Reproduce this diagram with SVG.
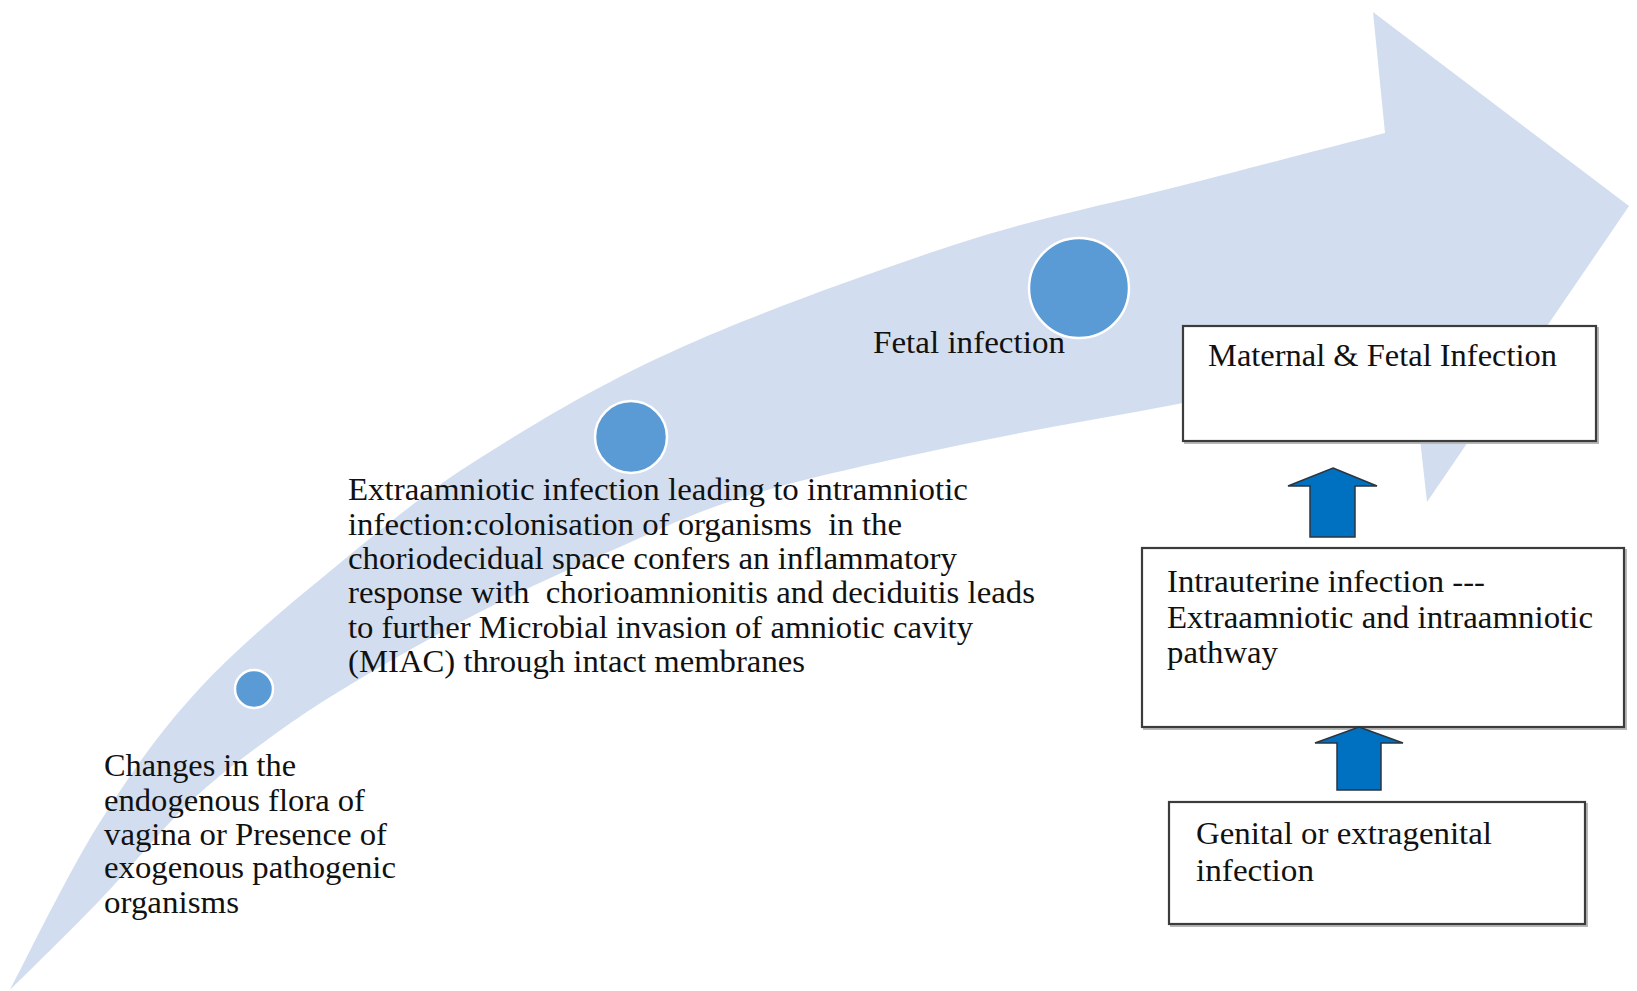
<svg xmlns="http://www.w3.org/2000/svg" width="1637" height="991" viewBox="0 0 1637 991">
<style>
.t{font-family:"Liberation Serif","Times New Roman",serif;fill:#111;white-space:pre}
.p{font-size:31px}
.b{font-size:32px}
.dot{fill:#5B9BD5;stroke:#ffffff;stroke-width:2.5}
.box{fill:#ffffff;stroke:#3c3c3c;stroke-width:2.2}
.shadow{fill:none;stroke:#b8b8b8;stroke-width:2}
.up{fill:#0070C0;stroke:#2a3540;stroke-width:1.5;stroke-linejoin:miter}
</style>
<rect width="1637" height="991" fill="#ffffff"/>
<g id="band">
<path fill="#D2DEEF" d="M10,990 C25,962 68.3,872.3 100,822 C131.7,771.7 160,731.2 200,688 C240,644.8 293.3,601.3 340,563 C386.7,524.7 423.3,493.8 480,458 C536.7,422.2 600,383.8 680,348 C760,312.2 876.7,270 960,243 C1043.3,216 1109.2,204.3 1180,186 C1250.8,167.7 1350.8,141.8 1385,133 L1373,12 L1629,206 L1427,502 L1411,358 C1373,365.5 1258.2,388.5 1183,403 C1107.8,417.5 1032.2,429.7 960,445 C887.8,460.3 807.8,477.5 750,495 C692.2,512.5 658,530.5 613,550 C568,569.5 523.3,589.8 480,612 C436.7,634.2 388.5,661.7 353,683 C317.5,704.3 294.7,719.7 267,740 C239.3,760.3 214.8,778.3 187,805 C159.2,831.7 129.5,869.2 100,900 C70.5,930.8 25,975 10,990 Z"/>
</g>
<g id="stage1">
<circle class="dot" cx="254" cy="689" r="19"/>
<text class="t p" x="104" y="776" textLength="192" lengthAdjust="spacingAndGlyphs">Changes in the</text>
<text class="t p" x="104" y="811" textLength="261" lengthAdjust="spacingAndGlyphs">endogenous flora of</text>
<text class="t p" x="104" y="845" textLength="283" lengthAdjust="spacingAndGlyphs">vagina or Presence of</text>
<text class="t p" x="104" y="878" textLength="292" lengthAdjust="spacingAndGlyphs">exogenous pathogenic</text>
<text class="t p" x="104" y="913" textLength="135" lengthAdjust="spacingAndGlyphs">organisms</text>
</g>
<g id="stage2">
<circle class="dot" cx="631" cy="437" r="36"/>
<text class="t p" x="348" y="500" textLength="620" lengthAdjust="spacingAndGlyphs">Extraamniotic infection leading to intramniotic</text>
<text class="t p" x="348" y="535" textLength="554" lengthAdjust="spacingAndGlyphs">infection:colonisation of organisms  in the</text>
<text class="t p" x="348" y="569" textLength="609" lengthAdjust="spacingAndGlyphs">choriodecidual space confers an inflammatory</text>
<text class="t p" x="348" y="603" textLength="687" lengthAdjust="spacingAndGlyphs">response with  chorioamnionitis and deciduitis leads</text>
<text class="t p" x="348" y="638" textLength="625" lengthAdjust="spacingAndGlyphs">to further Microbial invasion of amniotic cavity</text>
<text class="t p" x="348" y="672" textLength="457" lengthAdjust="spacingAndGlyphs">(MIAC) through intact membranes</text>
</g>
<g id="stage3">
<circle class="dot" cx="1079" cy="288" r="50"/>
<text class="t p" x="873" y="353" textLength="192" lengthAdjust="spacingAndGlyphs">Fetal infection</text>
</g>
<g id="maternal-fetal">
<rect class="shadow" x="1185" y="328" width="413" height="115"/>
<rect class="box" x="1183" y="326" width="413" height="115"/>
<text class="t b" x="1208" y="366" textLength="349" lengthAdjust="spacingAndGlyphs">Maternal &amp; Fetal Infection</text>
</g>
<g id="intrauterine">
<rect class="shadow" x="1144" y="550" width="482" height="179"/>
<rect class="box" x="1142" y="548" width="482" height="179"/>
<text class="t b" x="1167" y="592" textLength="318" lengthAdjust="spacingAndGlyphs">Intrauterine infection ---</text>
<text class="t b" x="1167" y="628" textLength="426" lengthAdjust="spacingAndGlyphs">Extraamniotic and intraamniotic</text>
<text class="t b" x="1167" y="663" textLength="111" lengthAdjust="spacingAndGlyphs">pathway</text>
</g>
<g id="genital">
<rect class="shadow" x="1171" y="804" width="416" height="122"/>
<rect class="box" x="1169" y="802" width="416" height="122"/>
<text class="t b" x="1196" y="844" textLength="296" lengthAdjust="spacingAndGlyphs">Genital or extragenital</text>
<text class="t b" x="1196" y="881" textLength="118" lengthAdjust="spacingAndGlyphs">infection</text>
</g>
<g id="connectors">
<polygon class="up" points="1333,468 1377,486 1355,486 1355,537 1310,537 1310,486 1288,486"/>
<polygon class="up" points="1359,727 1403,743 1381,743 1381,790 1337,790 1337,743 1315,743"/>
</g>
</svg>
